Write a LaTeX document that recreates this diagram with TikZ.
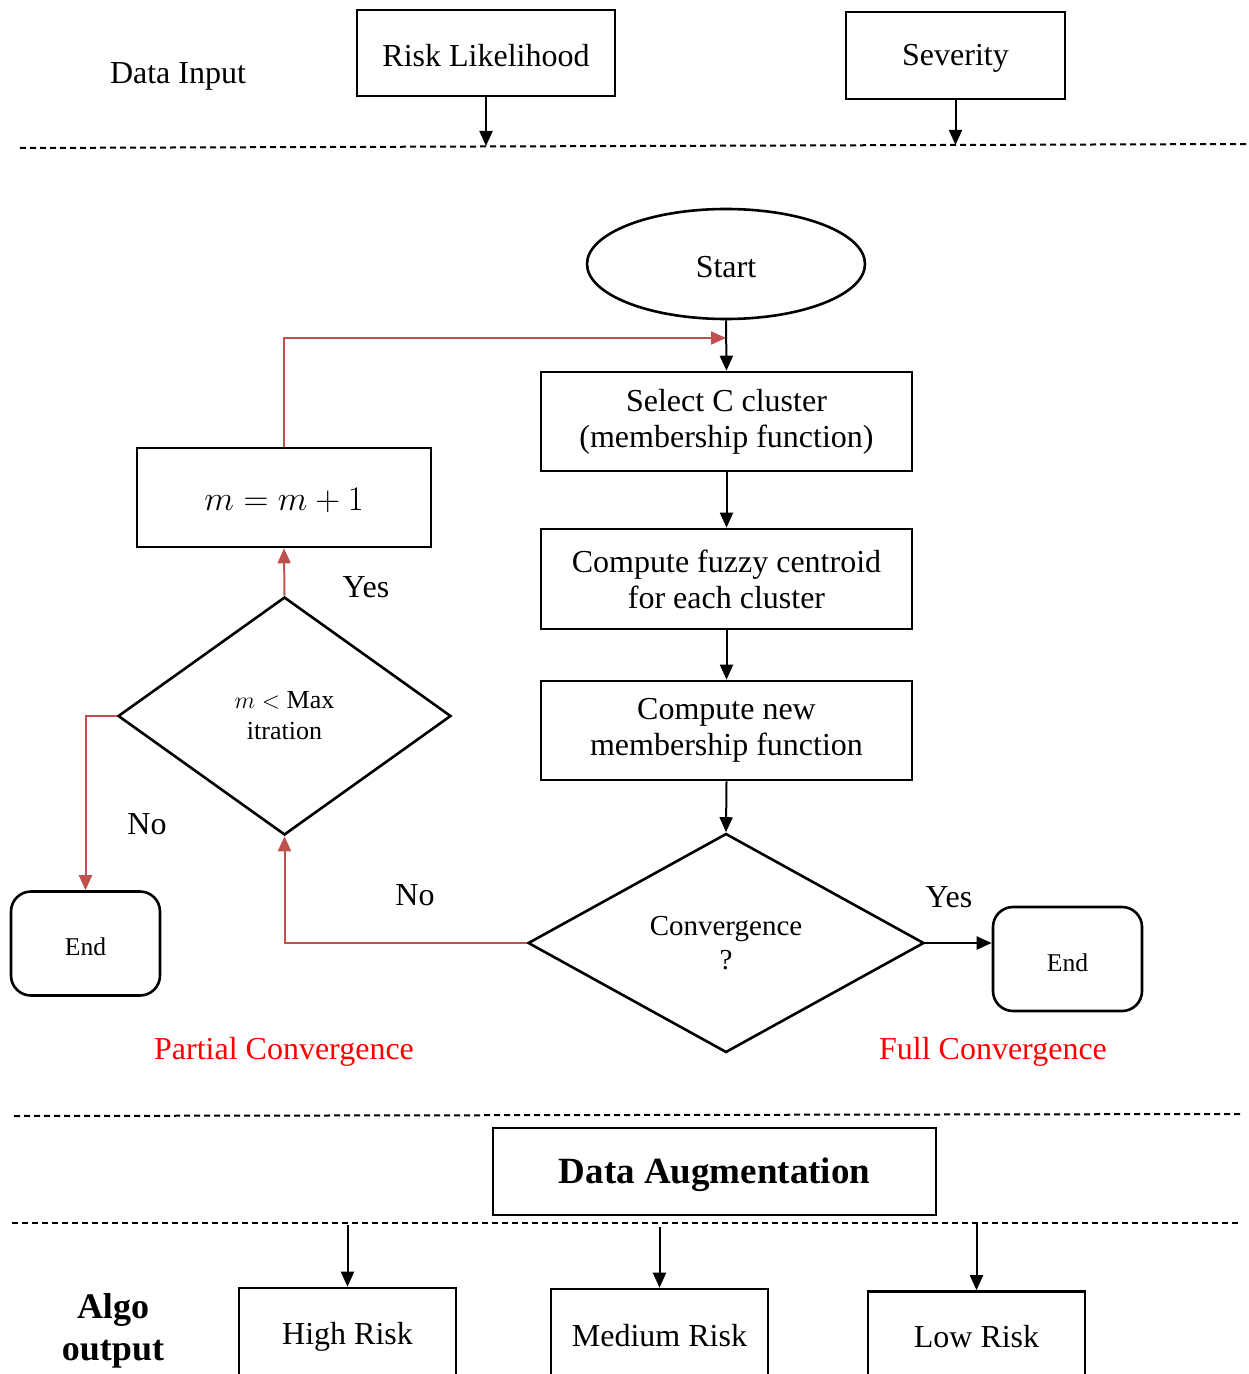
\documentclass[tikz,border=0pt]{standalone}
\usepackage{fontspec}
\setmainfont{Liberation Serif}
\usetikzlibrary{shapes.geometric,arrows.meta}
\definecolor{redline}{RGB}{192,80,77}

\begin{document}
\begin{tikzpicture}[x=0.5pt,y=-0.5pt,
    box/.style={draw,line width=1.3pt,rectangle,inner sep=0pt,align=center,font=\fontsize{16}{18}\selectfont,execute at begin node={\rule{0pt}{0.85em}}},
    rbox/.style={draw,line width=1.3pt,rounded corners=10pt,inner sep=0pt,minimum width=74.5pt,minimum height=52pt,font=\fontsize{12.8}{15}\selectfont,execute at begin node={\rule{0pt}{0.95em}}},
    dbox/.style={draw,line width=1.3pt,diamond,inner sep=0pt,align=center},
    txt/.style={font=\fontsize{16}{18}\selectfont},
    arr/.style={-{Triangle[length=7.5pt,width=6.5pt]},line width=1pt},
    redarr/.style={arr,draw=redline},
    divider/.style={dash pattern=on 3pt off 2pt,line width=1pt}]

    \useasboundingbox (0,0) rectangle (1248,1374);
    \clip (0,0) rectangle (1248,1374);

    \node [txt] (a) at (178,76) {Data Input};
    \node [box,minimum width=129pt,minimum height=43pt] (b) at (486,53) {Risk Likelihood};
    \node [box,minimum width=109.5pt,minimum height=43.5pt] (c) at (955.5,55.5) {Severity};
    \node [box,ellipse,minimum width=139pt,minimum height=55pt] (d) at (726,264) {Start};
    \node [box,minimum width=185.5pt,minimum height=49.5pt] (e) at (726.5,421.5) {Select C cluster\\(membership function)};
    \node [box,minimum width=185.5pt,minimum height=50pt] (f) at (726.5,579) {Compute fuzzy centroid\\for each cluster};
    \node [box,minimum width=185.5pt,minimum height=49.5pt] (g) at (726.5,730.5) {Compute new\\membership function};
    \node [dbox,minimum width=198pt,minimum height=109.5pt,font=\fontsize{14.5}{17}\selectfont] (h) at (726,943) {Convergence\\?};
    \node [rbox] (i) at (1067.5,959) {End};
    \node [dbox,minimum width=166.5pt,minimum height=119pt,font=\fontsize{13}{15.5}\selectfont] (j) at (284.5,716) {$m <$ Max\\itration};
    \node [box,minimum width=147pt,minimum height=49.5pt] (k) at (284,497.5) {$m = m + 1$};
    \node [rbox] (l) at (85.5,943.5) {End};
    \node [box,minimum width=221.5pt,minimum height=43.5pt,font=\fontsize{18.5}{21}\selectfont\bfseries] (m) at (714.5,1171.5) {Data Augmentation};
    \node [box,minimum width=108.5pt,minimum height=46pt] (n) at (347.5,1334) {High Risk};
    \node [box,minimum width=108.5pt,minimum height=44pt] (o) at (659.5,1333) {Medium Risk};
    \node [box,minimum width=108.5pt,minimum height=43pt] (p) at (976.5,1334.5) {Low Risk};
    \node [align=center,font=\fontsize{18}{21}\selectfont\bfseries] (q) at (113,1331) {Algo\\output};

    \node [txt] (r) at (366,587) {Yes};
    \node [txt] (s) at (147,824) {No};
    \node [txt] (t) at (415,895) {No};
    \node [txt] (u) at (949,897) {Yes};
    \node [txt,text=red] (v) at (284,1052) {Partial Convergence};
    \node [txt,text=red] (w) at (993,1052) {Full Convergence};

    \coordinate (l1) at (20,148);
    \coordinate (l2) at (1248,144);
    \coordinate (l3) at (14,1116);
    \coordinate (l4) at (1240,1114);
    \coordinate (l5) at (12,1223);
    \coordinate (l6) at (1240,1223);
    \coordinate (b0) at (486,146);
    \coordinate (c0) at (955.5,145);
    \coordinate (k0) at (726,338);
    \coordinate (n0) at (347.5,1225);
    \coordinate (o0) at (659.5,1227);
    \coordinate (p0) at (976.5,1222);

    \draw [divider] (l1) -- (l2);
    \draw [divider] (l3) -- (l4);
    \draw [divider] (l5) -- (l6);

    \draw [arr] (b.south) -- (b0);
    \draw [arr] (c.south) -- (c0);
    \draw [arr] (d.south) -- (e.north);
    \draw [arr] (e.south) -- (f.north);
    \draw [arr] (f.south) -- (g.north);
    \draw [arr] (g.south) -- (h.north);
    \draw [arr] (h.east) -- (h.east -| i.west);
    \draw [redarr] (k.north) |- (k0);
    \draw [redarr] (j.north) -- (k.south);
    \draw [redarr] (j.west) -| (l.north);
    \draw [redarr] (h.west) -| (j.south);
    \draw [arr] (n0) -- (n.north);
    \draw [arr] (o0) -- (o.north);
    \draw [arr] (p0) -- (p.north);

  \end{tikzpicture}
\end{document}
